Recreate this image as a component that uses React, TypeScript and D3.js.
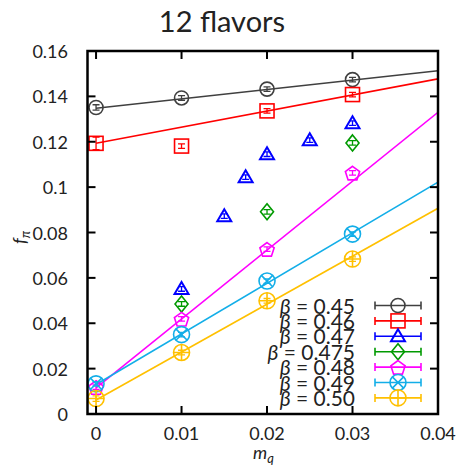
import React, { useEffect } from 'react';
import * as d3 from 'd3';

// beta labels, in legend order
const betas = ["0.45", "0.46", "0.47", "0.475", "0.48", "0.49", "0.50"];
const colors = ["#404040", "#ff0000", "#0000ff", "#009a00", "#ff00ff", "#13aee8", "#ffc000"];
const shapes = ["circle", "square", "triangle", "diamond", "pentagon", "otimes", "oplus"];

// data per beta: quark mass, f_pi, error
const m045 = [0, 0.01, 0.02, 0.03];
const f045 = [0.1351, 0.1393, 0.1432, 0.1474];
const e045 = [0.0012, 0.001, 0.001, 0.001];

const m046 = [0, 0.01, 0.02, 0.03];
const f046 = [0.1193, 0.1181, 0.1336, 0.1408];
const e046 = [0.0028, 0.001, 0.001, 0.001];

const m047 = [0.01, 0.015, 0.0175, 0.02, 0.025, 0.03];
const f047 = [0.0551, 0.0872, 0.1044, 0.1145, 0.1207, 0.1282];
const e047 = [0.001, 0.001, 0.001, 0.001, 0.001, 0.001];

const m0475 = [0.01, 0.02, 0.03];
const f0475 = [0.0485, 0.0891, 0.1195];
const e0475 = [0.001, 0.001, 0.001];

const m048 = [0, 0.01, 0.02, 0.03];
const f048 = [0.0118, 0.0419, 0.0727, 0.1063];
const e048 = [0.001, 0.001, 0.001, 0.001];

const m049 = [0, 0.01, 0.02, 0.03];
const f049 = [0.0133, 0.035, 0.0586, 0.0793];
const e049 = [0.001, 0.001, 0.001, 0.001];

const m050 = [0, 0.01, 0.02, 0.03];
const f050 = [0.0068, 0.0271, 0.0499, 0.0683];
const e050 = [0.0012, 0.001, 0.001, 0.001];

// linear fits: value at m=0 and at m=0.04 (null = no fit)
const fitStart = [0.1348, 0.1193, null, null, 0.0115, 0.013, 0.0062];
const fitEnd = [0.1513, 0.1477, null, null, 0.133, 0.1022, 0.0907];

const xTicks = [0, 0.01, 0.02, 0.03, 0.04];
const yTicks = [0, 0.02, 0.04, 0.06, 0.08, 0.1, 0.12, 0.14, 0.16];

const series = [
  { m: m045, f: f045, e: e045 },
  { m: m046, f: f046, e: e046 },
  { m: m047, f: f047, e: e047 },
  { m: m0475, f: f0475, e: e0475 },
  { m: m048, f: f048, e: e048 },
  { m: m049, f: f049, e: e049 },
  { m: m050, f: f050, e: e050 },
];

const W = 459, H = 466;
const left = 87.5, right = 438, top = 51, bottom = 414;
const font = "Lato, 'DejaVu Sans', sans-serif";

function Marker({ shape, cx, cy, color }: { shape: string; cx: number; cy: number; color: string }) {
  const sw = 1.6;
  if (shape === 'circle') return <circle cx={cx} cy={cy} r={7} fill="none" stroke={color} strokeWidth={sw} />;
  if (shape === 'square') return <rect x={cx - 7} y={cy - 7} width={14} height={14} fill="none" stroke={color} strokeWidth={sw} />;
  if (shape === 'triangle') {
    const p = [[cx, cy - 7], [cx + 7, cy + 5], [cx - 7, cy + 5]];
    return <path d={d3.line()(p as [number, number][]) + 'Z'} fill="none" stroke={color} strokeWidth={2} />;
  }
  if (shape === 'diamond') {
    const p = [[cx, cy - 8], [cx + 6.5, cy], [cx, cy + 8], [cx - 6.5, cy]];
    return <path d={d3.line()(p as [number, number][]) + 'Z'} fill="none" stroke={color} strokeWidth={sw} />;
  }
  if (shape === 'pentagon') {
    const p = d3.range(5).map(i => {
      const a = -Math.PI / 2 + i * 2 * Math.PI / 5;
      return [cx + 7.5 * Math.cos(a), cy + 1 + 7.5 * Math.sin(a)];
    });
    return <path d={d3.line()(p as [number, number][]) + 'Z'} fill="none" stroke={color} strokeWidth={sw} />;
  }
  const r = 8;
  const d = r * Math.SQRT1_2;
  return (
    <g stroke={color} strokeWidth={sw} fill="none">
      <circle cx={cx} cy={cy} r={r} />
      {shape === 'otimes'
        ? <path d={`M${cx - d},${cy - d}L${cx + d},${cy + d}M${cx - d},${cy + d}L${cx + d},${cy - d}`} />
        : <path d={`M${cx - r},${cy}L${cx + r},${cy}M${cx},${cy - r}L${cx},${cy + r}`} />}
    </g>
  );
}

export default function App() {
  useEffect(() => {
    document.body.style.margin = '0';
  }, []);

  const x = d3.scaleLinear().domain([-0.001, 0.04]).range([left, right]);
  const y = d3.scaleLinear().domain([0, 0.16]).range([bottom, top]);
  const tickLen = 8;
  const text = '#222';

  return (
    <svg width={W} height={H} style={{ display: 'block', background: '#fff' }} fontFamily={font}>
      <text x={222} y={32} textAnchor="middle" fontSize={29} fill={text}>12 flavors</text>

      <defs>
        <clipPath id="plot"><rect x={left} y={top} width={right - left} height={bottom - top} /></clipPath>
      </defs>

      {/* fit lines */}
      <g clipPath="url(#plot)">
        {series.map((s, i) => fitStart[i] == null ? null : (
          <line key={i} x1={x(0)} y1={y(fitStart[i] as number)} x2={x(0.04)} y2={y(fitEnd[i] as number)}
            stroke={colors[i]} strokeWidth={1.6} />
        ))}
      </g>

      {/* points with error bars */}
      {series.map((s, i) => (
        <g key={i}>
          {s.m.map((mv, j) => {
            const cx = x(mv), cy = y(s.f[j]);
            const y0 = y(s.f[j] - s.e[j]), y1 = y(s.f[j] + s.e[j]);
            return (
              <g key={j}>
                <Marker shape={shapes[i]} cx={cx} cy={cy} color={colors[i]} />
                <path d={`M${cx},${y0}L${cx},${y1}M${cx - 3.5},${y0}L${cx + 3.5},${y0}M${cx - 3.5},${y1}L${cx + 3.5},${y1}`}
                  stroke={colors[i]} strokeWidth={1.3} fill="none" />
              </g>
            );
          })}
        </g>
      ))}

      {/* frame and ticks */}
      <g stroke="#000" strokeWidth={2}>
        {xTicks.map(t => (
          <g key={t}>
            <line x1={x(t)} x2={x(t)} y1={bottom} y2={bottom - tickLen} />
            <line x1={x(t)} x2={x(t)} y1={top} y2={top + tickLen} />
          </g>
        ))}
        {yTicks.map(t => (
          <g key={t}>
            <line x1={left} x2={left + tickLen} y1={y(t)} y2={y(t)} />
            <line x1={right} x2={right - tickLen} y1={y(t)} y2={y(t)} />
          </g>
        ))}
        <rect x={left} y={top} width={right - left} height={bottom - top} fill="none" strokeWidth={2.5} />
      </g>

      {/* tick labels */}
      {xTicks.map(t => (
        <text key={t} x={x(t)} y={440} textAnchor="middle" fontSize={18} fill={text}>{d3.format('~g')(t)}</text>
      ))}
      {yTicks.map(t => (
        <text key={t} x={68} y={y(t) + 7} textAnchor="end" fontSize={18} fill={text}>{d3.format('~g')(t)}</text>
      ))}

      {/* axis labels */}
      <text x={253} y={459} fontSize={18} fill={text} fontStyle="italic">
        m<tspan fontSize={13} dy={4}>q</tspan>
      </text>
      <text transform="translate(26,244) rotate(-90)" fontSize={18} fill={text} fontStyle="italic">
        f<tspan fontSize={13} dy={4}>π</tspan>
      </text>

      {/* legend */}
      {betas.map((b, i) => {
        const ly = 305.5 + i * 15.4;
        return (
          <g key={b}>
            <text x={355} y={ly + 8} textAnchor="end" fontSize={21} fill={text}>
              <tspan fontStyle="italic">β</tspan> = {b}
            </text>
            <path d={`M375,${ly}L421,${ly}M375,${ly - 4}L375,${ly + 4}M421,${ly - 4}L421,${ly + 4}`}
              stroke={colors[i]} strokeWidth={1.6} fill="none" />
            <Marker shape={shapes[i]} cx={398} cy={ly} color={colors[i]} />
          </g>
        );
      })}
    </svg>
  );
}
